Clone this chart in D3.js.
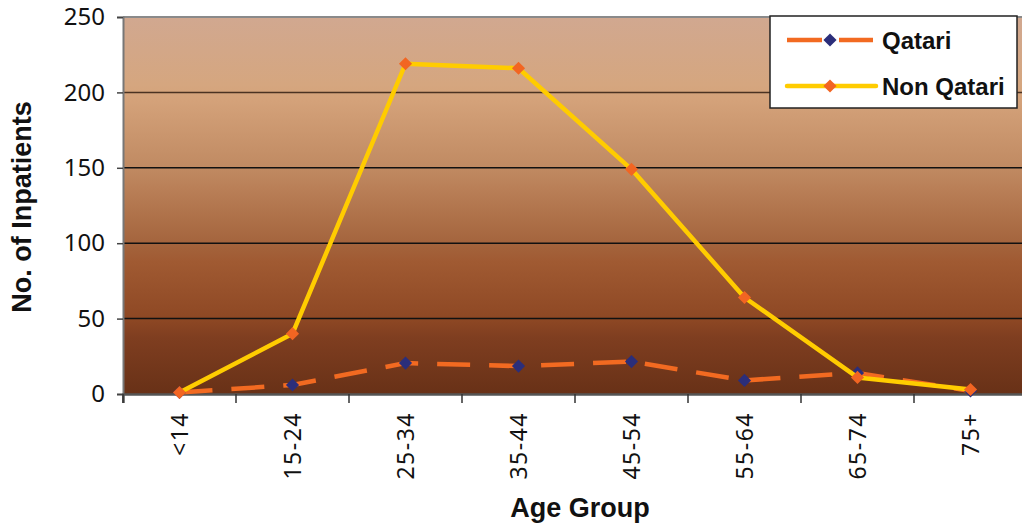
<!DOCTYPE html>
<html><head><meta charset="utf-8">
<script src="https://cdn.jsdelivr.net/npm/d3@7"></script>
<style>body{margin:0;background:#fff}svg{display:block}</style>
</head><body>
<svg id="c" width="1022" height="526"></svg>
<script>
const categories = ["<14","15-24","25-34","35-44","45-54","55-64","65-74","75+"];
const qatari = [1, 6, 20.5, 18.5, 21.5, 9, 14, 2];
const nonQatari = [1, 40, 219, 216, 149, 64, 11, 3];
const yTicks = [0, 50, 100, 150, 200, 250];
const seriesNames = ["Qatari", "Non Qatari"];

const svg = d3.select("#c");
const m = {l:123, t:17, r:1027, b:394};
const x = d3.scaleBand().domain(categories).range([m.l, m.r]);
const y = d3.scaleLinear().domain([0,250]).range([m.b, m.t]);

const defs = svg.append("defs");
const g = defs.append("linearGradient").attr("id","bg").attr("x1",0).attr("y1",0).attr("x2",0).attr("y2",1);
[[0,"#D1A890"],[0.18,"#D5A67F"],[0.22,"#D4A27A"],[0.4,"#C08A62"],[0.45,"#BA8058"],[0.6,"#A4643D"],[0.65,"#A05A32"],[0.8,"#8E4824"],[0.85,"#7F3E20"],[1,"#683117"]]
 .forEach(([o,c])=>g.append("stop").attr("offset",o).attr("stop-color",c));

svg.append("rect").attr("x",m.l).attr("y",m.t).attr("width",m.r-m.l).attr("height",m.b-m.t).attr("fill","url(#bg)");

// gridlines
svg.append("g").selectAll("line").data(yTicks.filter(d=>d>0&&d<250)).join("line")
  .attr("x1",m.l).attr("x2",m.r).attr("y1",d=>y(d)).attr("y2",d=>y(d))
  .attr("stroke",d=>d===200?"#4a3222":"#111").attr("stroke-width",1.5);
svg.append("line").attr("x1",m.l).attr("x2",m.r).attr("y1",m.t).attr("y2",m.t).attr("stroke","#8a8a8a").attr("stroke-width",2);

// y axis
const ya = svg.append("g").attr("transform",`translate(${m.l},0)`)
  .call(d3.axisLeft(y).tickValues(yTicks).tickSize(6).tickPadding(12));
ya.select(".domain").attr("stroke","#777").attr("stroke-width",2);
ya.selectAll(".tick line").attr("stroke","#444").attr("stroke-width",1.5);
ya.selectAll("text").attr("font-family","'Noto Sans', sans-serif").attr("font-size",24).attr("fill","#111");

// x axis
const xa = svg.append("g").attr("transform",`translate(0,${m.b})`)
  .call(d3.axisBottom(x).tickSize(9).tickSizeOuter(9));
xa.select(".domain").attr("stroke","#555").attr("stroke-width",2.5);
xa.selectAll(".tick line").attr("transform",`translate(${-x.bandwidth()/2},0)`).attr("stroke","#333").attr("stroke-width",1.5);
xa.selectAll("text").attr("font-family","'Noto Sans', sans-serif").attr("font-size",23).attr("letter-spacing",1.5).attr("fill","#111")
  .attr("transform","rotate(-90)").attr("text-anchor","end").attr("dy","0.36em").attr("x",-18).attr("y",0);

const cx = (d,i)=>x(categories[i])+x.bandwidth()/2;
const line = d3.line().x((d,i)=>cx(d,i)).y(d=>y(d));
const diamond = d3.symbol().type(d3.symbolDiamond2).size(110);

// Qatari
svg.append("path").datum(qatari).attr("d",line).attr("fill","none").attr("stroke","#F26A21").attr("stroke-width",4.5).attr("stroke-dasharray","33 19");
svg.append("g").selectAll("path").data(qatari).join("path").attr("d",diamond)
  .attr("transform",(d,i)=>`translate(${cx(d,i)},${y(d)})`).attr("fill","#2B2E7A");
// Non Qatari
svg.append("path").datum(nonQatari).attr("d",line).attr("fill","none").attr("stroke","#FFCC00").attr("stroke-width",4.5).attr("stroke-linejoin","round");
svg.append("g").selectAll("path").data(nonQatari).join("path").attr("d",diamond)
  .attr("transform",(d,i)=>`translate(${cx(d,i)},${y(d)})`).attr("fill","#F26522");

// titles
svg.append("text").attr("transform","translate(31,207) rotate(-90)").attr("text-anchor","middle")
  .attr("font-family","'Liberation Sans', Arial, sans-serif").attr("font-weight","bold").attr("font-size",27).attr("fill","#111").text("No. of Inpatients");
svg.append("text").attr("x",580).attr("y",517).attr("text-anchor","middle")
  .attr("font-family","'Liberation Sans', Arial, sans-serif").attr("font-weight","bold").attr("font-size",27).attr("fill","#111").text("Age Group");

// legend
const lg = svg.append("g");
lg.append("rect").attr("x",770).attr("y",16).attr("width",247).attr("height",92).attr("fill","#fff").attr("stroke","#222").attr("stroke-width",1.5);
const ly = [40, 86];
lg.append("line").attr("x1",787).attr("x2",873).attr("y1",ly[0]).attr("y2",ly[0]).attr("stroke","#F26A21").attr("stroke-width",4.5).attr("stroke-dasharray","35 17");
lg.append("path").attr("d",diamond).attr("transform",`translate(830,${ly[0]})`).attr("fill","#2B2E7A");
lg.append("line").attr("x1",787).attr("x2",876).attr("y1",ly[1]).attr("y2",ly[1]).attr("stroke","#FFCC00").attr("stroke-width",4.5).attr("stroke-linecap","round");
lg.append("path").attr("d",diamond).attr("transform",`translate(830,${ly[1]})`).attr("fill","#F26522");
lg.selectAll("text.l").data(seriesNames).join("text").attr("x",882).attr("y",(d,i)=>ly[i]+9)
  .attr("font-family","'Liberation Sans', Arial, sans-serif").attr("font-weight","bold").attr("font-size",24).attr("fill","#111").text(d=>d);
</script>
</body></html>
